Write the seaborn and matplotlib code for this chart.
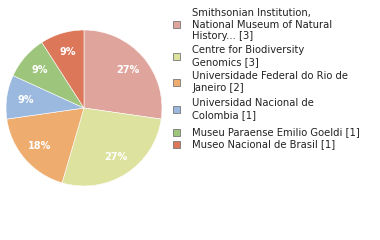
import matplotlib
matplotlib.use("Agg")
import matplotlib.pyplot as plt
import seaborn as sns
from matplotlib.patches import Rectangle

sns.set_theme(style="white")
plt.rcParams['font.family'] = ['DejaVu Sans']

labels = [
    "Smithsonian Institution,\nNational Museum of Natural\nHistory... [3]",
    "Centre for Biodiversity\nGenomics [3]",
    "Universidade Federal do Rio de\nJaneiro [2]",
    "Universidad Nacional de\nColombia [1]",
    "Museu Paraense Emilio Goeldi [1]",
    "Museo Nacional de Brasil [1]",
]
counts = [3, 3, 2, 1, 1, 1]
colors = sns.color_palette(["#dfa59c", "#dde29e", "#eeac6e", "#9bb9df", "#9dc57c", "#dc7759"])

fig = plt.figure(figsize=(3.8, 2.4), dpi=100)
ax = fig.add_axes([6/380, 1 - 186/240, 156/380, 156/240])
wedges, texts, autotexts = ax.pie(
    counts, colors=colors, startangle=90, counterclock=False,
    autopct=lambda p: f"{p:.0f}%", pctdistance=0.75,
    wedgeprops=dict(edgecolor="white", linewidth=0.4),
    textprops=dict(color="white", fontsize=7, fontweight="bold"),
)
ax.set_aspect("equal")
ax.set_xlim(-1, 1)
ax.set_ylim(-1, 1)
ax.set_axis_off()

# legend
y_entries = [24.5, 56, 82, 109, 132, 144.5]
for lab, col, yc in zip(labels, colors, y_entries):
    fig.patches.append(Rectangle((173/380, 1 - (yc + 3.5)/240), 7/380, 7/240,
                                 transform=fig.transFigure, facecolor=col,
                                 edgecolor="#777777", linewidth=0.6))
    fig.text(192/380, 1 - yc/240, lab, fontsize=7.2, color="#222222",
             va="center", ha="left", linespacing=1.18)

fig.savefig("out.png", dpi=100)
